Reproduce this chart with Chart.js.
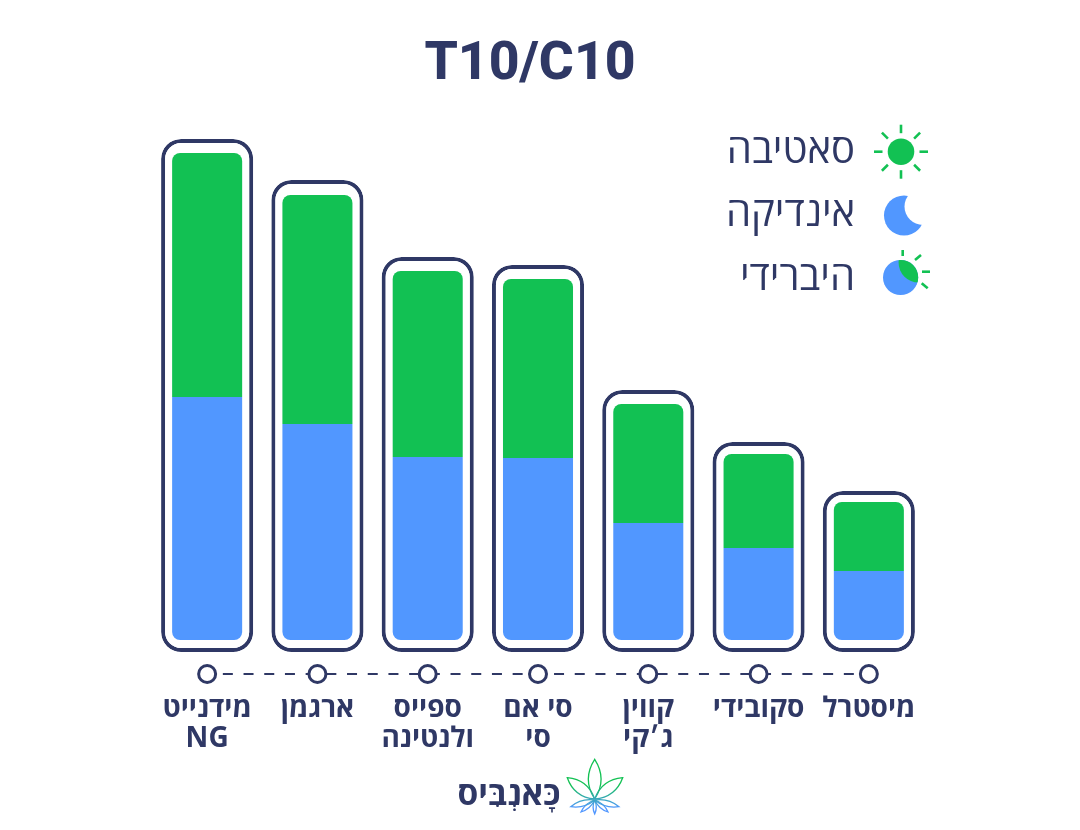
<!DOCTYPE html>
<html lang="he"><head><meta charset="utf-8">
<style>html,body{margin:0;padding:0;background:#fff}#w{width:1080px;height:830px}</style>
<script src="https://cdn.jsdelivr.net/npm/chart.js@4"></script>
</head><body><div id="w"><canvas id="c" width="1080" height="830"></canvas></div>
<script>
const titleText = 'T10/C10';
const categories = [['מידנייט','NG'],'ארגמן',['ספייס','ולנטינה'],['סי אם','סי'],['קווין','ג׳קי'],'סקובידי','מיסטרל'];
const indica = [12.15,10.8,9.15,9.1,5.85,4.6,3.45];
const sativa = [12.2,11.45,9.3,8.95,5.95,4.7,3.45];
const frameLow = [-0.6,-0.6,-0.6,-0.6,-0.6,-0.6,-0.6];
const frameHigh = [25.05,23,19.15,18.75,12.5,9.9,7.45];
const axisLine = [-1.7,-1.7,-1.7,-1.7,-1.7,-1.7,-1.7];
const legendNames = ['סאטיבה','אינדיקה','היברידי'];
const brandName = 'כָּאנְבִּיס';
const NAVY='#2f3865', GREEN='#12c153', BLUE='#5197ff';
const HEB='"Open Sans","Liberation Sans",sans-serif';

function ray(ctx,x1,y1,x2,y2,c){ctx.strokeStyle=c;ctx.lineWidth=2.6;ctx.beginPath();ctx.moveTo(x1,y1);ctx.lineTo(x2,y2);ctx.stroke();}
function leaf(ctx,bx,by,tx,ty,w){
  const mx=bx+(tx-bx)*.5,my=by+(ty-by)*.5,dx=tx-bx,dy=ty-by,l=Math.hypot(dx,dy),nx=-dy/l*w,ny=dx/l*w;
  ctx.beginPath();ctx.moveTo(bx,by);
  ctx.quadraticCurveTo(mx+nx*1.6,my+ny*1.6,tx,ty);
  ctx.quadraticCurveTo(mx-nx*1.6,my-ny*1.6,bx,by);ctx.stroke();
}
const decor={id:'decor',afterDraw(chart){
  const ctx=chart.ctx;ctx.save();
  ctx.fillStyle=NAVY;ctx.textBaseline='middle';ctx.direction='rtl';
  ctx.font='500 40px '+HEB;
  [152,215,279].forEach((y,i)=>{ctx.textAlign='start';ctx.fillText(legendNames[i],855,y);});
  ctx.direction='ltr';
  const sx=901,sy=151.7;ctx.fillStyle=GREEN;ctx.beginPath();ctx.arc(sx,sy,13.3,0,7);ctx.fill();
  for(let a=0;a<8;a++){const t=a*Math.PI/4,c=Math.cos(t),s=Math.sin(t);ray(ctx,sx+c*18.5,sy+s*18.5,sx+c*27,sy+s*27,GREEN);}
  ctx.fillStyle=BLUE;ctx.beginPath();ctx.arc(904,215.5,20,0,7);ctx.fill();
  ctx.fillStyle='#fff';ctx.beginPath();ctx.arc(923,206.5,18.5,0,7);ctx.fill();
  ctx.fillStyle=BLUE;ctx.beginPath();ctx.arc(900.6,277.5,17.6,0,7);ctx.fill();
  ctx.save();ctx.beginPath();ctx.arc(900.6,277.5,17.6,0,7);ctx.clip();
  ctx.fillStyle=GREEN;ctx.beginPath();ctx.arc(918.6,262.6,20,0,7);ctx.fill();ctx.restore();
  ray(ctx,902.7,250,902.7,256,GREEN);ray(ctx,915,260,921,255,GREEN);ray(ctx,922,271.7,930,271.7,GREEN);ray(ctx,921.7,283.3,927.7,288.3,GREEN);
  ctx.fillStyle=NAVY;ctx.textAlign='center';ctx.textBaseline='middle';ctx.font='700 33.5px '+HEB;
  ctx.fillText(brandName,509,795);
  const g=ctx.createLinearGradient(0,785,0,808);g.addColorStop(0,GREEN);g.addColorStop(1,BLUE);
  ctx.strokeStyle=g;ctx.lineWidth=1.3;
  const bx=594.7,by=800;
  leaf(ctx,bx,by-1,594.7,759.3,8);
  leaf(ctx,bx,by-1,567.3,777.7,7);
  leaf(ctx,bx,by-1,622.7,777.7,7);
  leaf(ctx,bx,by,570.7,806.7,3.5);
  leaf(ctx,bx,by,619,806.7,3.5);
  leaf(ctx,bx,by,581,812,2.5);
  leaf(ctx,bx,by,608,812,2.5);
  leaf(ctx,bx,by,594.7,814,2);
  ctx.restore();
}};
new Chart(document.getElementById('c'),{
  type:'bar',
  plugins:[decor],
  data:{labels:categories,datasets:[
    {type:'line',data:axisLine,order:0,clip:false,borderColor:NAVY,borderWidth:2,borderDash:[10,10.7],borderDashOffset:5,
     pointRadius:8.5,pointHoverRadius:8.5,pointBackgroundColor:'#fff',pointBorderColor:NAVY,pointBorderWidth:3,fill:false,tension:0},
    {label:'אינדיקה',data:indica,backgroundColor:BLUE,stack:'s',order:1,grouped:false,barPercentage:.635,categoryPercentage:1,
     borderSkipped:false,borderRadius:{topLeft:0,topRight:0,bottomLeft:8,bottomRight:8}},
    {label:'סאטיבה',data:sativa,backgroundColor:GREEN,stack:'s',order:1,grouped:false,barPercentage:.635,categoryPercentage:1,
     borderSkipped:false,borderRadius:{topLeft:8,topRight:8,bottomLeft:0,bottomRight:0}},
    {label:'frame',data:frameHigh.map((h,i)=>[frameLow[i],h]),backgroundColor:'#fff',borderColor:NAVY,borderWidth:4,stack:'f',order:3,grouped:false,
     barPercentage:.835,categoryPercentage:1,borderSkipped:false,borderRadius:20}
  ]},
  options:{
    responsive:false,animation:false,devicePixelRatio:1,
    layout:{padding:{left:136,right:156,top:0,bottom:0}},
    plugins:{legend:{display:false},tooltip:{enabled:false},
      title:{display:true,text:titleText,color:NAVY,font:{family:'Roboto,sans-serif',size:53.5,weight:'800',lineHeight:1.2},padding:{top:33.5,bottom:32.3}}},
    scales:{
      x:{stacked:true,grid:{display:false},border:{display:false},
         ticks:{color:NAVY,font:{family:HEB,size:28,weight:'700',lineHeight:1.07},padding:12,maxRotation:0,minRotation:0,autoSkip:false},
         afterFit(s){s.height=156;}},
      y:{min:-1.7,max:25.5,stacked:true,grid:{display:false},border:{display:false},ticks:{display:false},afterFit(s){s.width=16;}}
    }
  }
});
</script></body></html>
